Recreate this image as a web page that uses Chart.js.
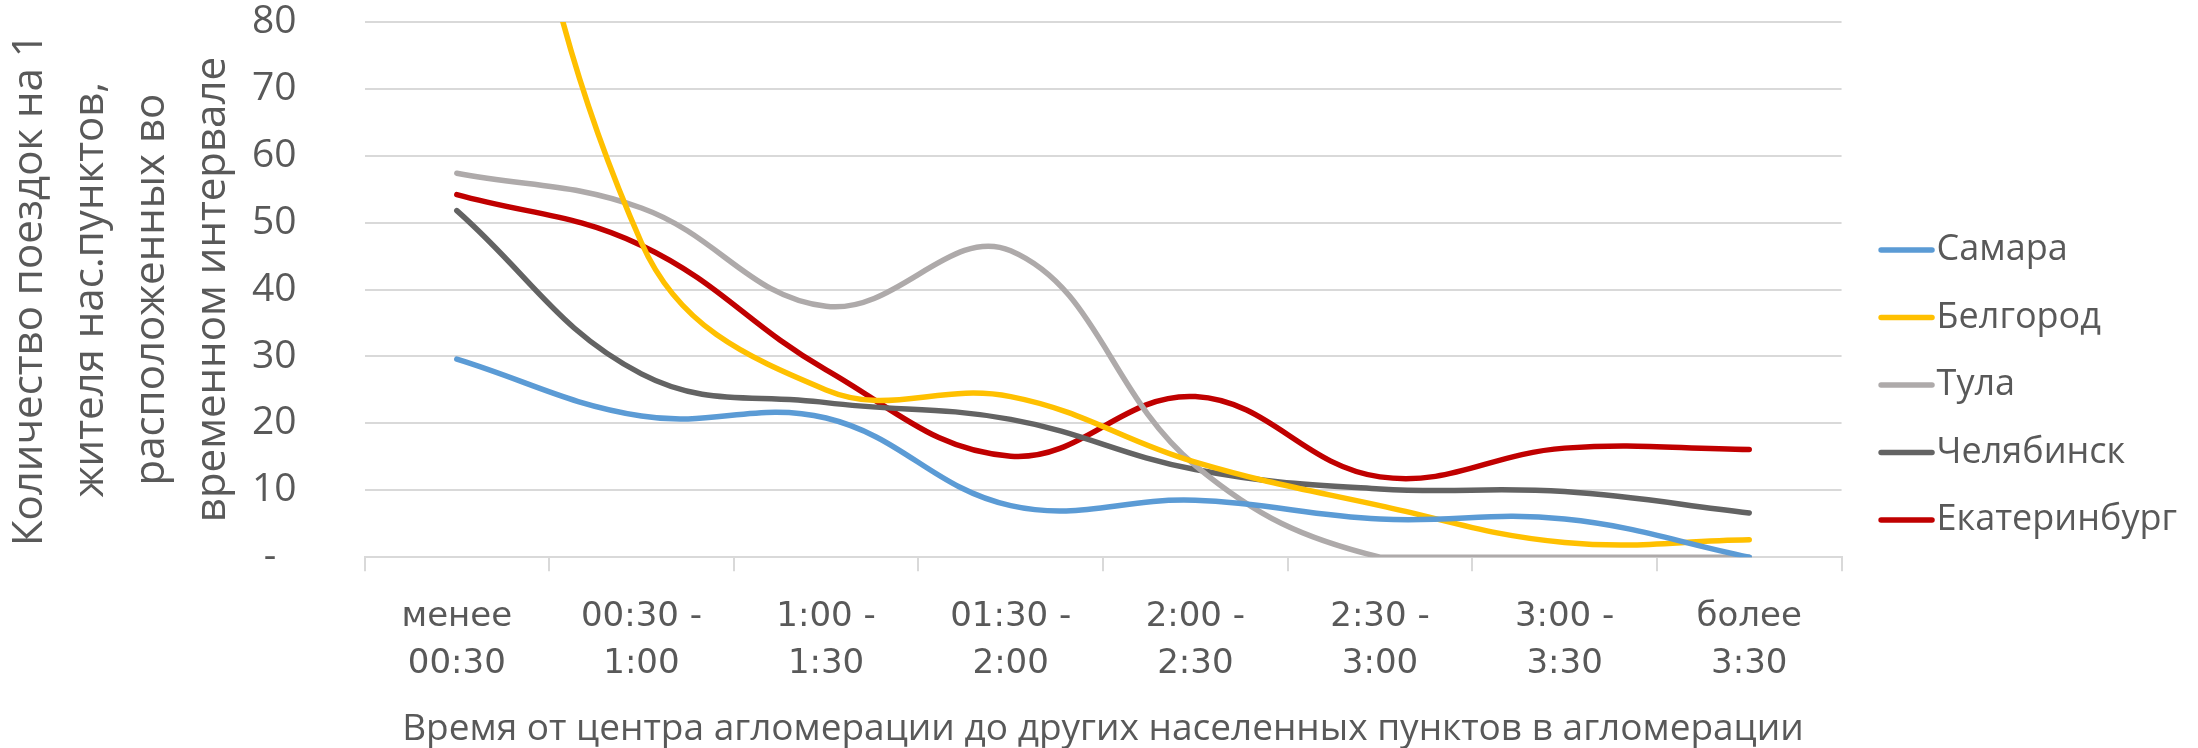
<!DOCTYPE html>
<html>
<head>
<meta charset="utf-8">
<script src="https://cdn.jsdelivr.net/npm/chart.js@4"></script>
<style>
  body { margin: 0; background: #fff; }
  #wrap { width: 2198px; height: 748px; }
</style>
</head>
<body>
<div id="wrap"><canvas id="chart"></canvas></div>
<script>
const categories = [
  ['менее', '00:30'], ['00:30 -', '1:00'], ['1:00 -', '1:30'], ['01:30 -', '2:00'],
  ['2:00 -', '2:30'], ['2:30 -', '3:00'], ['3:00 -', '3:30'], ['более', '3:30']
];
const seriesNames = ['Самара', 'Белгород', 'Тула', 'Челябинск', 'Екатеринбург'];
const samara = [29.6, 21.1, 20.8, 7.7, 8.5, 5.7, 5.7, 0];
const belgorod = [150, 47, 25, 24, 14.2, 7.7, 2.2, 2.6];
const tula = [57.4, 52.2, 37.5, 45.8, 13.7, 0, 0, 0];
const chelyabinsk = [51.8, 27.4, 23.1, 20.6, 13.1, 10.2, 9.8, 6.6];
const ekaterinburg = [54.2, 46.6, 28, 15.1, 24, 12, 16.3, 16.1];
const yTicks = [0, 10, 20, 30, 40, 50, 60, 70, 80];
const yTitle = ['Количество поездок на 1', 'жителя нас.пунктов,', 'расположенных во', 'временном интервале'];
const xTitle = 'Время от центра агломерации до других населенных пунктов в агломерации';

const colors = ['#5B9BD5', '#FFC000', '#AEAAAA', '#636363', '#C00000'];
const values = [samara, belgorod, tula, chelyabinsk, ekaterinburg];
const textColor = '#595959';
const font = 'Open Sans';

function makeSet(i) {
  return {
    label: seriesNames[i],
    data: values[i],
    borderColor: colors[i],
    backgroundColor: colors[i],
    borderWidth: 5.5,
    borderCapStyle: 'round',
    tension: 0.4,
    pointRadius: 0,
    fill: false
  };
}

new Chart(document.getElementById('chart'), {
  type: 'line',
  data: {
    labels: categories,
    datasets: seriesNames.map((n, i) => makeSet(i))
  },
  options: {
    responsive: true,
    maintainAspectRatio: false,
    animation: false,
    layout: { padding: { left: 0, right: 11, top: 0, bottom: 0 } },
    plugins: {
      tooltip: { enabled: false },
      legend: {
        position: 'right',
        title: { display: true, text: '', font: { size: 10, lineHeight: 1 }, padding: { top: 6, bottom: 6 } },
        labels: {
          color: textColor,
          font: { family: font, size: 36 },
          usePointStyle: true,
          pointStyle: 'line',
          boxWidth: 24,
          boxHeight: 36,
          padding: 31.5,
          generateLabels(chart) {
            return chart.data.datasets.map((ds, i) => ({
              text: ds.label,
              fillStyle: ds.borderColor,
              strokeStyle: ds.borderColor,
              lineWidth: 5.5,
              lineCap: 'round',
              pointStyle: 'line',
              fontColor: textColor,
              datasetIndex: i
            }));
          }
        }
      }
    },
    scales: {
      x: {
        offset: true,
        grid: {
          offset: true,
          drawOnChartArea: false,
          drawTicks: true,
          tickLength: 14,
          color: '#D9D9D9',
          lineWidth: 2
        },
        border: { display: true, color: '#D9D9D9', width: 2 },
        ticks: {
          color: textColor,
          font: { family: 'DejaVu Sans', size: 34, lineHeight: 1.38 },
          padding: 22.5,
          maxRotation: 0,
          autoSkip: false
        },
        title: {
          display: true,
          text: xTitle,
          color: textColor,
          font: { family: font, size: 37, lineHeight: 1 },
          padding: { top: 1, bottom: 0 }
        }
      },
      y: {
        min: 0,
        max: 80,
        afterBuildTicks(scale) {
          scale.ticks = yTicks.map(v => ({ value: v }));
        },
        afterFit(scale) {
          scale.paddingTop = 22;
          scale.paddingBottom = 0;
        },
        grid: { color: '#D9D9D9', lineWidth: 2, drawTicks: false },
        border: { display: false },
        ticks: {
          color: textColor,
          font: { family: font, size: 39 },
          padding: 68,
          callback: v => (v === 0 ? '-  ' : String(v))
        },
        title: {
          display: true,
          text: yTitle,
          color: textColor,
          font: { family: font, size: 42, lineHeight: '61px' },
          padding: { top: 0, bottom: 7 }
        }
      },
      gap: {
        type: 'linear',
        position: 'right',
        display: true,
        grid: { display: false, drawTicks: false },
        border: { display: false },
        ticks: { display: false },
        afterFit(scale) {
          scale.width = 21.5;
        }
      }
    }
  }
});
</script>
</body>
</html>
